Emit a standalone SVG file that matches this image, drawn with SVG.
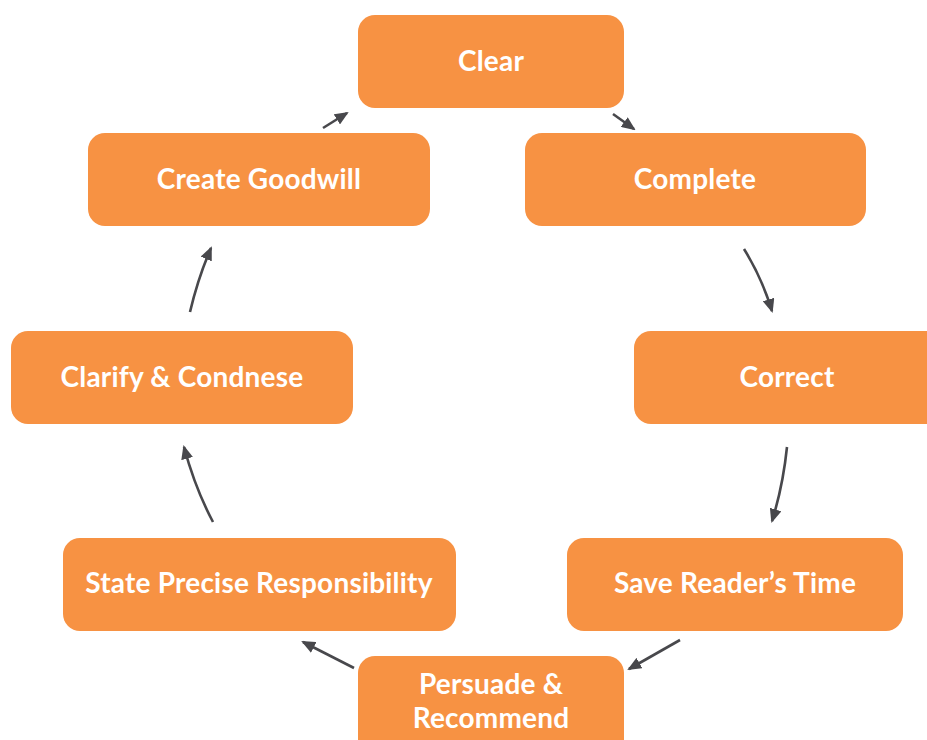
<svg xmlns="http://www.w3.org/2000/svg" width="927" height="740" viewBox="0 0 927 740">
<defs>
<style>
.box{fill:#F79243;}
.lbl{fill:#FFFFFF;font-family:Lato,"Open Sans","Liberation Sans",sans-serif;font-weight:700;font-size:28px;letter-spacing:0.2px;text-anchor:middle;}
.arr{fill:none;stroke:#48484C;stroke-width:2.6;marker-end:url(#ah);}
</style>
<marker id="ah" viewBox="0 0 14 12" refX="12" refY="6" markerWidth="14" markerHeight="12" markerUnits="userSpaceOnUse" orient="auto">
<path d="M0,0 L14,6 L0,12 Z" fill="#48484C"/>
</marker>
</defs>
<rect width="927" height="740" fill="#FFFFFF"/>
<g id="clear"><rect class="box" x="358" y="15" width="266" height="93" rx="17"/><text class="lbl" x="491" y="71">Clear</text></g>
<g id="complete"><rect class="box" x="525" y="133" width="341" height="93" rx="17"/><text class="lbl" x="695" y="189">Complete</text></g>
<g id="correct"><rect class="box" x="634" y="331" width="310" height="93" rx="17"/><text class="lbl" x="787" y="387">Correct</text></g>
<g id="save"><rect class="box" x="567" y="538" width="336" height="93" rx="17"/><text class="lbl" x="735" y="593">Save Reader’s Time</text></g>
<g id="persuade"><rect class="box" x="358" y="656" width="266" height="110" rx="17"/><text class="lbl" x="491" y="694">Persuade &amp;</text><text class="lbl" x="491" y="728">Recommend</text></g>
<g id="state"><rect class="box" x="63" y="538" width="393" height="93" rx="17"/><text class="lbl" x="259" y="593">State Precise Responsibility</text></g>
<g id="clarify"><rect class="box" x="11" y="331" width="342" height="93" rx="17"/><text class="lbl" x="182" y="387">Clarify &amp; Condnese</text></g>
<g id="goodwill"><rect class="box" x="88" y="133" width="342" height="93" rx="17"/><text class="lbl" x="259" y="189">Create Goodwill</text></g>
<g id="connectors">
<path class="arr" d="M323,128 L347,113"/>
<path class="arr" d="M613,114 L634,129"/>
<path class="arr" d="M744,249 Q762,278 772,311"/>
<path class="arr" d="M787,447 Q783,486 772,521"/>
<path class="arr" d="M680,640 L629,669"/>
<path class="arr" d="M354,668 L303,642"/>
<path class="arr" d="M213,522 Q195,488 184,447"/>
<path class="arr" d="M190,312 Q198,278 211,248"/>
</g>
</svg>
